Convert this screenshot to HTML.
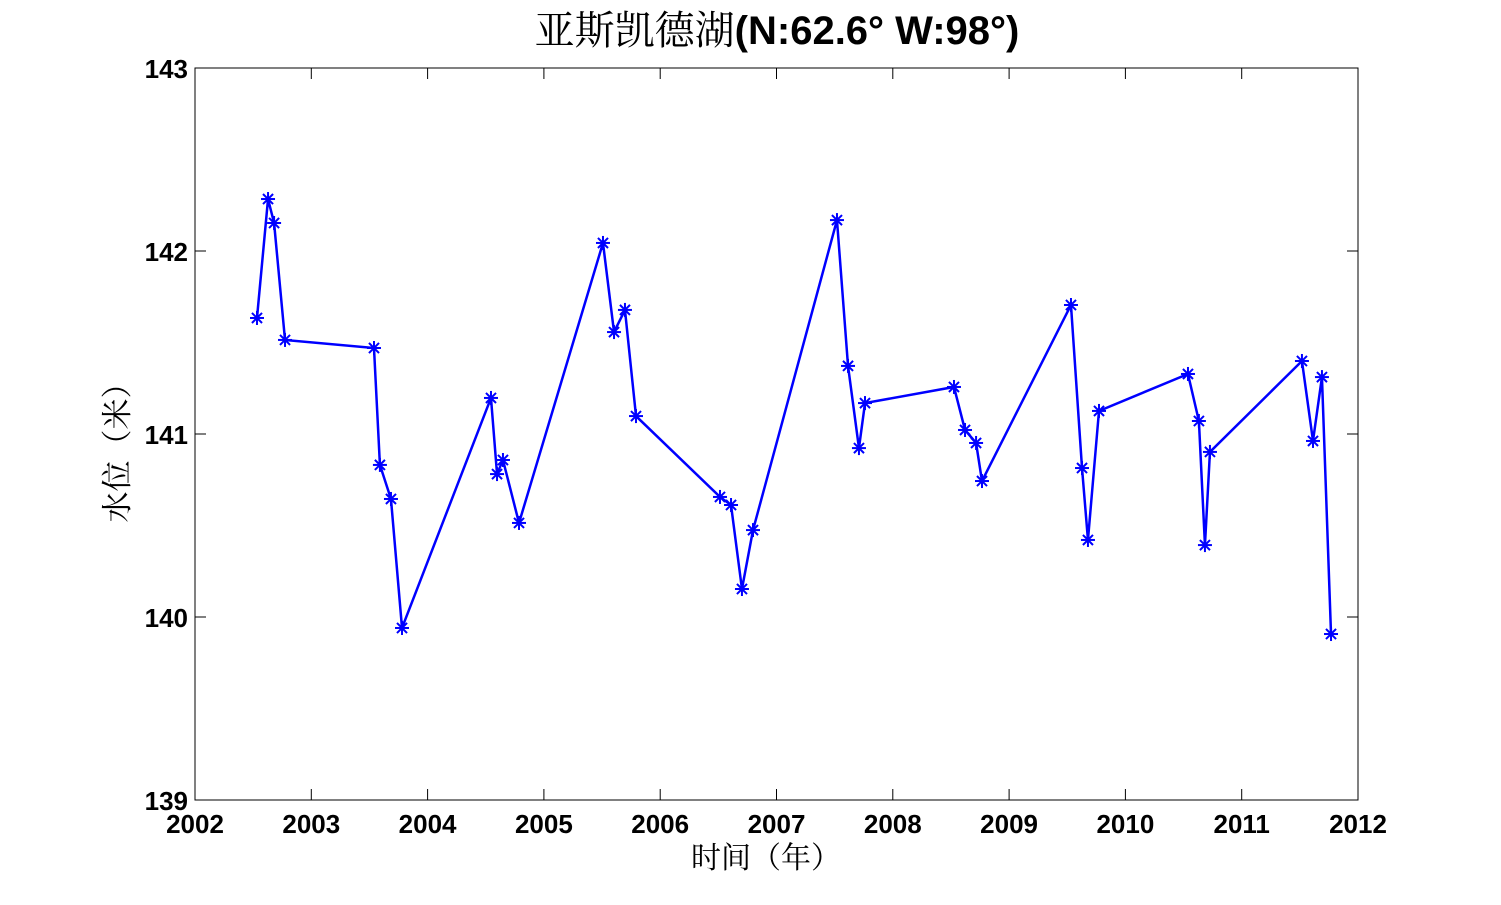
<!DOCTYPE html>
<html><head><meta charset="utf-8"><style>
html,body{margin:0;padding:0;background:#fff;}
svg text{font-family:"Liberation Sans","Noto Serif CJK SC",serif;}
</style></head><body>
<svg id="chart" width="1501" height="900" xmlns="http://www.w3.org/2000/svg">
<rect x="0" y="0" width="1501" height="900" fill="#fff"/>
<text x="777" y="44" text-anchor="middle" font-size="40">亚斯凯德湖<tspan font-weight="bold">(N:62.6° W:98°)</tspan></text>
<rect x="195" y="68" width="1163" height="732" fill="none" stroke="#000" stroke-width="1"/>
<g id="axes"></g>
<text x="766" y="868" text-anchor="middle" font-size="30">时间（年）</text>
<text transform="translate(128,445) rotate(-90)" text-anchor="middle" font-size="31">水位（米）</text>
<g id="series"></g>
</svg>
<script>
const xTicks=[2002,2003,2004,2005,2006,2007,2008,2009,2010,2011,2012];
const yTicks=[139,140,141,142,143];
const times=[2002.533,2002.628,2002.68,2002.774,2003.539,2003.59,2003.685,2003.78,2004.545,2004.597,2004.648,2004.786,2005.508,2005.603,2005.697,2005.792,2006.514,2006.609,2006.703,2006.798,2007.52,2007.615,2007.709,2007.761,2008.526,2008.621,2008.716,2008.767,2009.532,2009.627,2009.678,2009.773,2010.538,2010.632,2010.684,2010.727,2011.518,2011.613,2011.69,2011.768];
const levels=[141.634,142.284,142.153,141.514,141.470,140.831,140.645,139.940,141.197,140.781,140.858,140.514,142.044,141.557,141.678,141.098,140.656,140.612,140.153,140.475,142.169,141.372,140.923,141.169,141.257,141.022,140.951,140.743,141.705,140.814,140.421,141.126,141.328,141.071,140.393,140.902,141.399,140.962,141.311,139.907];
const L=195,R=1358,T=68,B=800;
const xs=v=>L+(v-2002)/(2012-2002)*(R-L);
const ys=v=>B-(v-139)/(143-139)*(B-T);
const NS="http://www.w3.org/2000/svg";
const ax=document.getElementById('axes');
function mk(tag,attrs,parent){const e=document.createElementNS(NS,tag);for(const k in attrs)e.setAttribute(k,attrs[k]);parent.appendChild(e);return e;}
xTicks.forEach(t=>{const x=xs(t);
 const a=mk('line',{x1:x,y1:B,x2:x,y2:B-11,stroke:'#000'},ax);
 
 
 const b=mk('line',{x1:x,y1:T,x2:x,y2:T+11,stroke:'#000'},ax);
 
 
 const tx=mk('text',{x:x,y:B+33,'text-anchor':'middle','font-size':'26','font-weight':'bold'},ax);
 tx.textContent=t;
 
 
});
yTicks.forEach(t=>{const y=ys(t);
 const a=mk('line',{x1:L,y1:y,x2:L+11,y2:y,stroke:'#000'},ax);
 
 
 const b=mk('line',{x1:R,y1:y,x2:R-11,y2:y,stroke:'#000'},ax);
 
 
 const tx=mk('text',{x:L-7,y:y+10,'text-anchor':'end','font-size':'26','font-weight':'bold'},ax);
 tx.textContent=t;
 
 
});
const sg=document.getElementById('series');
const pts=times.map((t,i)=>xs(t)+','+ys(levels[i])).join(' ');
const line=mk('polyline',{points:pts,fill:'none',stroke:'#0000ff','stroke-width':'2.5'},sg);


times.forEach((t,i)=>{const x=xs(t),y=ys(levels[i]),r=7;
 const g=mk('g',{stroke:'#0000ff','stroke-width':'2'},sg);
 
 
 mk('line',{x1:x-r,y1:y,x2:x+r,y2:y},g);
 mk('line',{x1:x,y1:y-r,x2:x,y2:y+r},g);
 const d=r*0.72;
 mk('line',{x1:x-d,y1:y-d,x2:x+d,y2:y+d},g);
 mk('line',{x1:x-d,y1:y+d,x2:x+d,y2:y-d},g);
});
</script>
</body></html>
